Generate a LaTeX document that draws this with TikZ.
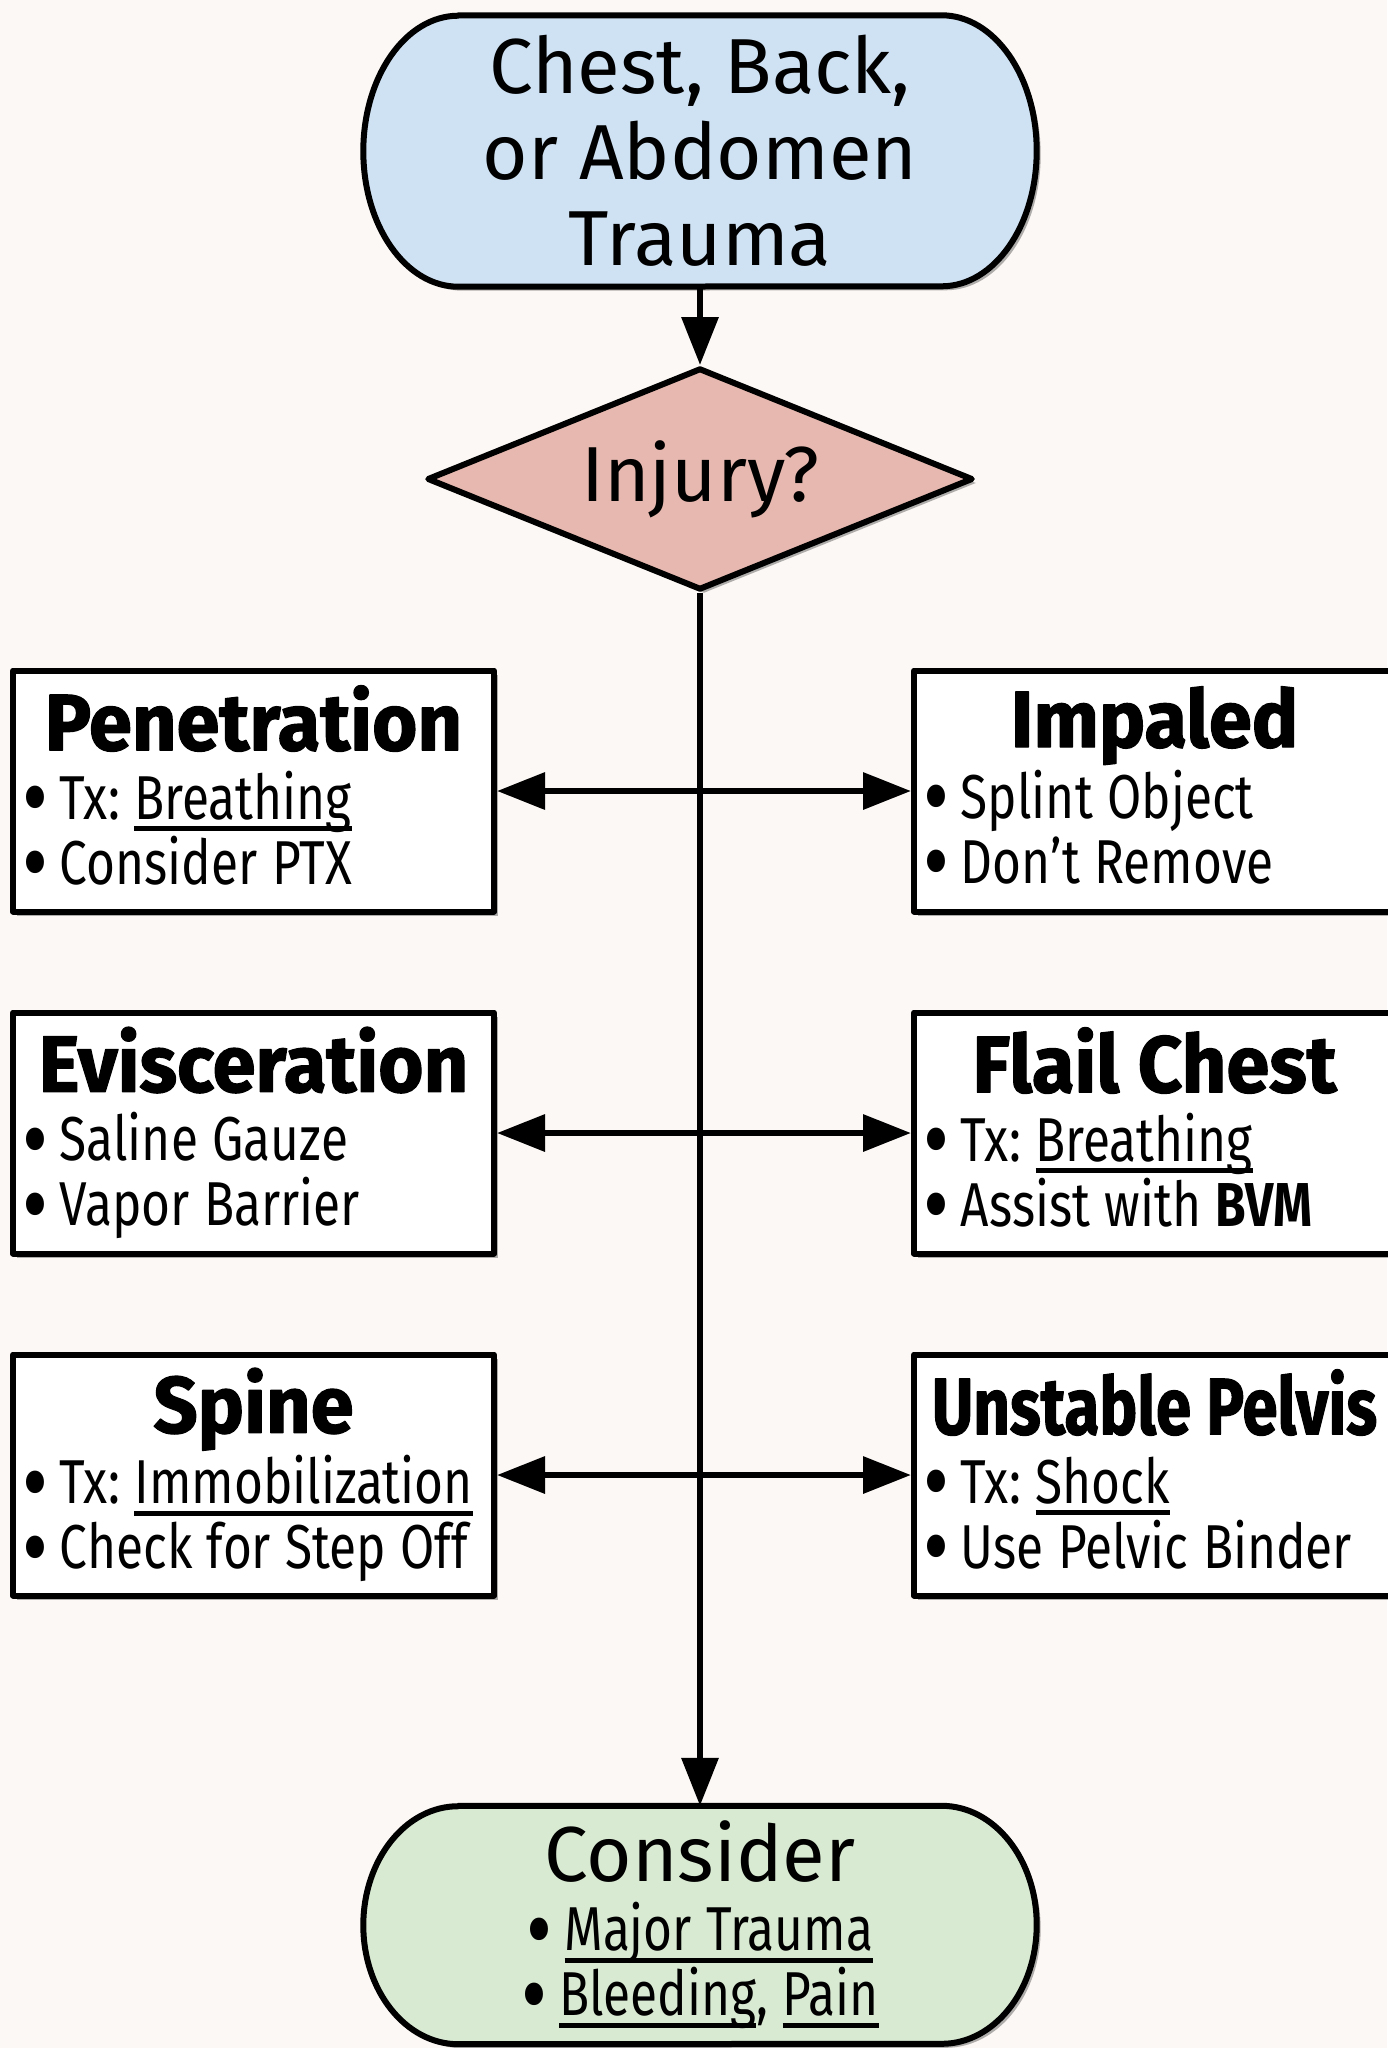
\documentclass[tikz,border=0pt]{standalone}
\usepackage{fontspec}
\usepackage{graphicx}
\setmainfont{Fira Sans}
\newfontfamily\narrowfont[FakeStretch=0.8,WordSpace=1.1]{Fira Sans}
\newfontfamily\headfont[FakeStretch=0.97,BoldFeatures={FakeBold=1.5}]{Fira Sans}
\usepackage{tikz}
\usetikzlibrary{arrows.meta,positioning,shapes.geometric,shadows}

\definecolor{paper}{RGB}{252,248,245}
\definecolor{startblue}{HTML}{CFE2F3}
\definecolor{askpink}{HTML}{E6B8AF}
\definecolor{endgreen}{HTML}{D9EAD3}
\pgfdeclarelayer{bg}
\pgfsetlayers{bg,main}
\frenchspacing

\newcommand\ulx[1]{\setbox0\hbox{#1}\rlap{\rule[-0.19em]{\wd0}{0.08em}}\box0}
\newcommand\hd[2][1]{\spaceskip=0pt\xspaceskip=0pt\relax
  \makebox[\hsize]{\scalebox{#1}[1]{\headfont\fontsize{80}{80}\selectfont\bfseries\vphantom{Hl}#2}}\\[4pt]}
\newcommand\itm{\raisebox{-0.2em}{\fontsize{100}{0}\selectfont\textbullet}\hspace{12pt}}
\newcommand\termshape[4]{%
  \begin{pgfonlayer}{bg}
  \draw[rim,fill=#2,shade] ([xshift=#3]#1.north west) -- ([xshift=-#3]#1.north east)
    arc[start angle=90,end angle=-90,x radius=#3,y radius=#4]
    -- ([xshift=#3]#1.south west)
    arc[start angle=270,end angle=90,x radius=#3,y radius=#4] -- cycle;
  \end{pgfonlayer}}

\begin{document}
\begin{tikzpicture}[x=1pt,y=-1pt,
  rim/.style={line width=6pt,line join=round},
  shade/.style={drop shadow={shadow xshift=4pt,shadow yshift=-4pt,fill=black,opacity=.3}},
  head/.style={minimum width=673pt,minimum height=271pt,inner sep=0pt,align=center,
    font=\fontsize{78}{86}\selectfont},
  ask/.style={diamond,draw,rim,fill=askpink,shade,aspect=2.46,inner sep=0pt,
    minimum width=546pt,minimum height=222pt,font=\fontsize{78}{80}\selectfont},
  card/.style={draw,rim,fill=white,shade,minimum width=481pt,minimum height=241pt,
    text width=463pt,inner xsep=9pt,inner ysep=0pt,align=left,
    font=\narrowfont\fontsize{62}{65}\selectfont},
  tail/.style={minimum width=673pt,minimum height=238pt,inner sep=0pt,align=center,
    font=\narrowfont\fontsize{62}{65}\selectfont},
  f/.style={-{Triangle[length=48pt,width=36pt]},line width=6.5pt},
  ff/.style={{Triangle[length=48pt,width=36pt]}-{Triangle[length=48pt,width=36pt]},line width=6.5pt}]
\useasboundingbox (0,0) rectangle (1387,2048);
\begin{pgfonlayer}{bg}
\fill[paper] (0,0) rectangle (1387,2048);
\end{pgfonlayer}
\node[head] (top) at (700,151) {Chest, Back,\\or Abdomen\\Trauma};
\node[ask] (inj) at (700,479) {Injury?};
\node[card] (pen) at (253.5,791) {\hd{Penetration}\itm Tx: \ulx{Breathing}\\\itm Consider PTX};
\node[card,right=414pt of pen] (imp) {\hd{Impaled}\itm Splint Object\\\itm Don’t Remove};
\node[card,below=95pt of pen] (evi) {\hd{Evisceration}\itm Saline Gauze\\\itm Vapor Barrier};
\node[card,right=414pt of evi] (flail) {\hd{Flail Chest}\itm Tx: \ulx{Breathing}\\\itm Assist with \textbf{BVM}};
\node[card,below=95pt of evi] (spine) {\hd{Spine}\itm Tx: \ulx{Immobilization}\\\itm Check for Step Off};
\node[card,right=414pt of spine] (pelvis) {\hd[0.82]{Unstable Pelvis}\itm Tx: \ulx{Shock}\\\itm Use Pelvic Binder};
\node[tail] (cons) at (700,1925) {{\rmfamily\fontsize{78}{80}\selectfont Consider}\\[4pt]\itm\ulx{Major Trauma}\\\itm\ulx{Bleeding}, \ulx{Pain}};
\termshape{top}{startblue}{95pt}{135.5pt}
\termshape{cons}{endgreen}{95pt}{119pt}
\draw[f] (top) -- (inj);
\draw[f] (inj) -- (cons);
\draw[ff] (pen) -- (imp);
\draw[ff] (evi) -- (flail);
\draw[ff] (spine) -- (pelvis);
\end{tikzpicture}
\end{document}
